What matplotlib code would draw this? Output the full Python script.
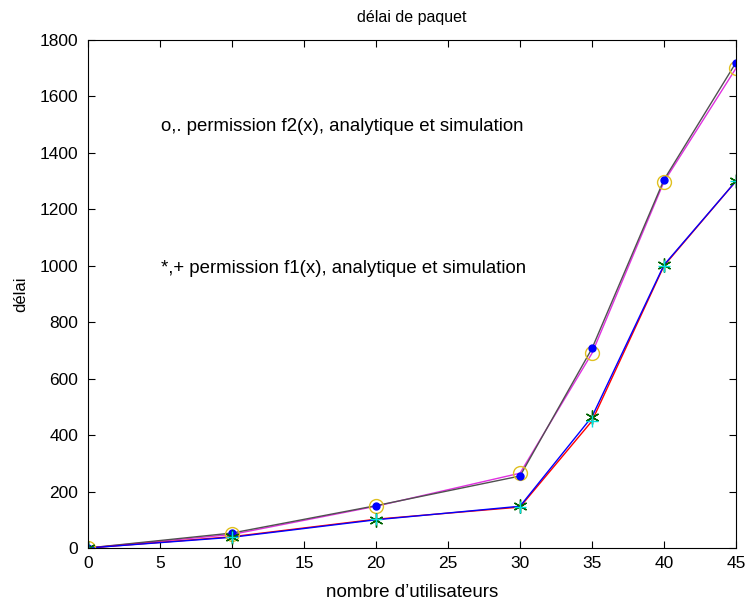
import matplotlib
matplotlib.use("Agg")
import matplotlib.pyplot as plt

plt.rcParams['font.family'] = ['Liberation Sans', 'DejaVu Sans']

# data
users = [0, 10, 20, 30, 35, 40, 45]
f2_analytic = [0, 48, 148, 265, 690, 1298, 1700]
f2_simulation = [0, 53, 150, 255, 707, 1305, 1720]
f1_analytic = [0, 38, 100, 148, 465, 1003, 1300]
f1_simulation = [0, 40, 102, 145, 450, 1000, 1300]

fig = plt.figure(figsize=(7.45, 6.03), dpi=100)
ax = fig.add_axes([88/745, 1 - 548/603, 648/745, 508/603])

ax.plot(users, f2_analytic, color="#e030e0", lw=1)
ax.plot(users, f2_simulation, color="#505050", lw=1)
ax.plot(users, f1_simulation, color="red", lw=1)
ax.plot(users, f1_analytic, color="blue", lw=1)

ax.plot(users, f2_analytic, "o", mfc="none", mec="#e0c020", ms=10, mew=1)
ax.plot(users, f2_simulation, "o", color="blue", ms=5)
ax.plot(users, f1_analytic, marker=(6, 2, 0), ls="none", color="#006400", ms=10, mew=1)
ax.plot(users, f1_simulation, "+", color="#00e0e0", ms=9, mew=1)

ax.text(5.1, 1495, "o,. permission f2(x), analytique et simulation", fontsize=13.4, va="center")
ax.text(5.1, 992, "*,+ permission f1(x), analytique et simulation", fontsize=13.4, va="center")

ax.set_xlim(0, 45)
ax.set_ylim(0, 1800)
ax.set_xticks(range(0, 46, 5))
ax.set_yticks(range(0, 1801, 200))
ax.tick_params(direction="in", top=True, right=True, labelsize=12.5, length=5)
ax.tick_params(axis="y", pad=7)
ax.tick_params(axis="x", pad=6)
ax.set_title("délai de paquet", fontsize=11.5, pad=13)
ax.set_xlabel("nombre d\u2019utilisateurs", fontsize=13.5, labelpad=9)
ax.set_ylabel("délai", fontsize=12, labelpad=8)

fig.savefig("out.png", dpi=100)
